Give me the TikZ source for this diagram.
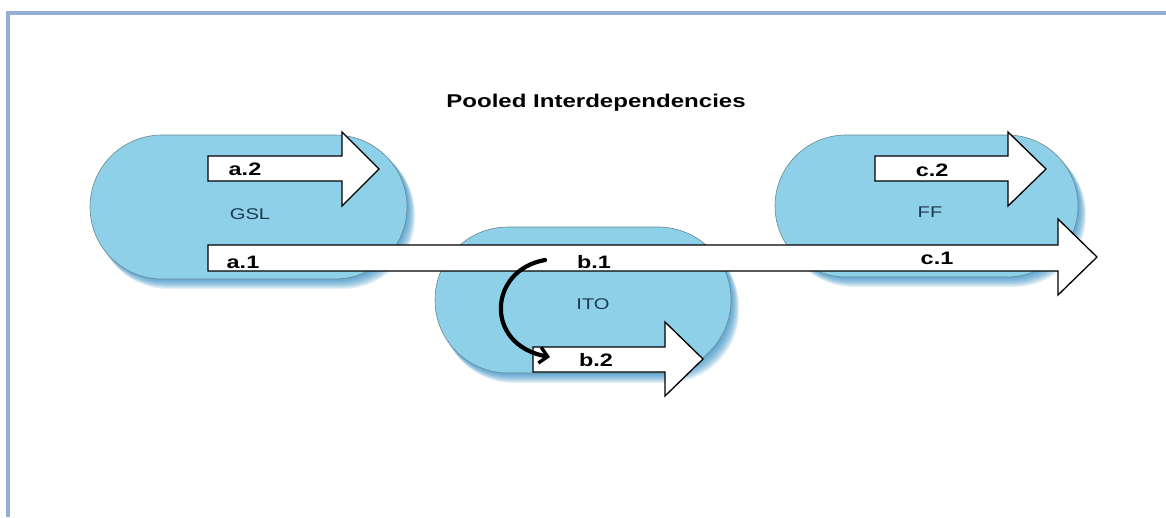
\documentclass[tikz,border=0pt]{standalone}
\usepackage{fontspec}
\setmainfont{Liberation Sans}
\usetikzlibrary{shapes.misc,arrows.meta}
\definecolor{framebl}{HTML}{93AFD6}
\definecolor{pillfill}{HTML}{8DD0E8}
\definecolor{pillshade}{HTML}{2A88BF}
\definecolor{pilledge}{HTML}{6A8792}
\definecolor{pilltext}{HTML}{1E3A52}
% text in this drawing is set slightly wide
\newcommand\widetext[1]{\scalebox{1.3}[1]{#1}}

\begin{document}
\begin{tikzpicture}[x=1pt,y=-1pt,
  pill/.style={rounded rectangle, draw=pilledge, line width=0.6pt, fill=pillfill, inner sep=0pt},
  blockarrow/.style={draw=black, line width=1.3pt, fill=white, line join=miter},
  title/.style={font=\fontsize{18.5}{22}\selectfont\bfseries, inner sep=0pt},
  flowlabel/.style={font=\fontsize{18}{21}\selectfont\bfseries, inner sep=0pt},
  unitlabel/.style={font=\fontsize{15.5}{18}\selectfont, text=pilltext, inner sep=0pt},
  curvedflow/.style={line width=4.2pt, line cap=round, -{Straight Barb[length=8pt,width=16pt,line width=3.4pt]}}]
\useasboundingbox (0,0) rectangle (1166,517);

% frame
\draw[framebl, line width=3.5pt] (1166,13) -- (8,13) -- (8,517);

% title
\node[title] (title) at (596,103) {\widetext{Pooled Interdependencies}};

% soft shadows under the three units
\foreach \xa/\ya/\xb/\yb in {90/135/407/279, 435/227/731/373, 775/135/1078/277}{
  \foreach \k in {1,...,9}{
    \fill[pillshade, opacity=0.13, rounded corners=72pt]
      (\xa+1+0.6*\k,\ya+0.9*\k) rectangle (\xb+0.9*\k,\yb+1.1*\k);
  }
}

% units
\node[pill, minimum width=317pt, minimum height=144pt] (gsl) at (248.5,207) {};
\node[pill, minimum width=296pt, minimum height=146pt] (ito) at (583,300) {};
\node[pill, minimum width=303pt, minimum height=142pt] (ff) at (926.5,206) {};

\node[unitlabel] (gsltext) at (250,214) {\widetext{GSL}};
\node[unitlabel] (itotext) at (593,304) {\widetext{ITO}};
\node[unitlabel] (fftext) at (930,212) {\widetext{FF}};

% block arrows
\draw[blockarrow] (208,156) -- (342,156) -- (342,132) -- (379,169) -- (342,206) -- (342,181) -- (208,181) -- cycle;
\draw[blockarrow] (875,156) -- (1008,156) -- (1008,132) -- (1046,169) -- (1008,206) -- (1008,181) -- (875,181) -- cycle;
\draw[blockarrow] (208,245) -- (1058,245) -- (1058,219) -- (1097,257) -- (1058,295) -- (1058,271) -- (208,271) -- cycle;
\draw[blockarrow] (533,347) -- (665,347) -- (665,322) -- (703,359) -- (665,396) -- (665,372) -- (533,372) -- cycle;

% flow labels
\node[flowlabel] (a2) at (245,169) {\widetext{a.2}};
\node[flowlabel] (a1) at (243,262) {\widetext{a.1}};
\node[flowlabel] (b1) at (594,262) {\widetext{b.1}};
\node[flowlabel] (c1) at (937,258) {\widetext{c.1}};
\node[flowlabel] (c2) at (932,170) {\widetext{c.2}};
\node[flowlabel] (b2) at (596,360) {\widetext{b.2}};

% b.1 feeds b.2
\coordinate (bstart) at (545,260);
\coordinate (bfinish) at (550,357);
\draw[curvedflow] (bstart) .. controls (488,270) and (484,345) .. (bfinish);
\end{tikzpicture}
\end{document}
